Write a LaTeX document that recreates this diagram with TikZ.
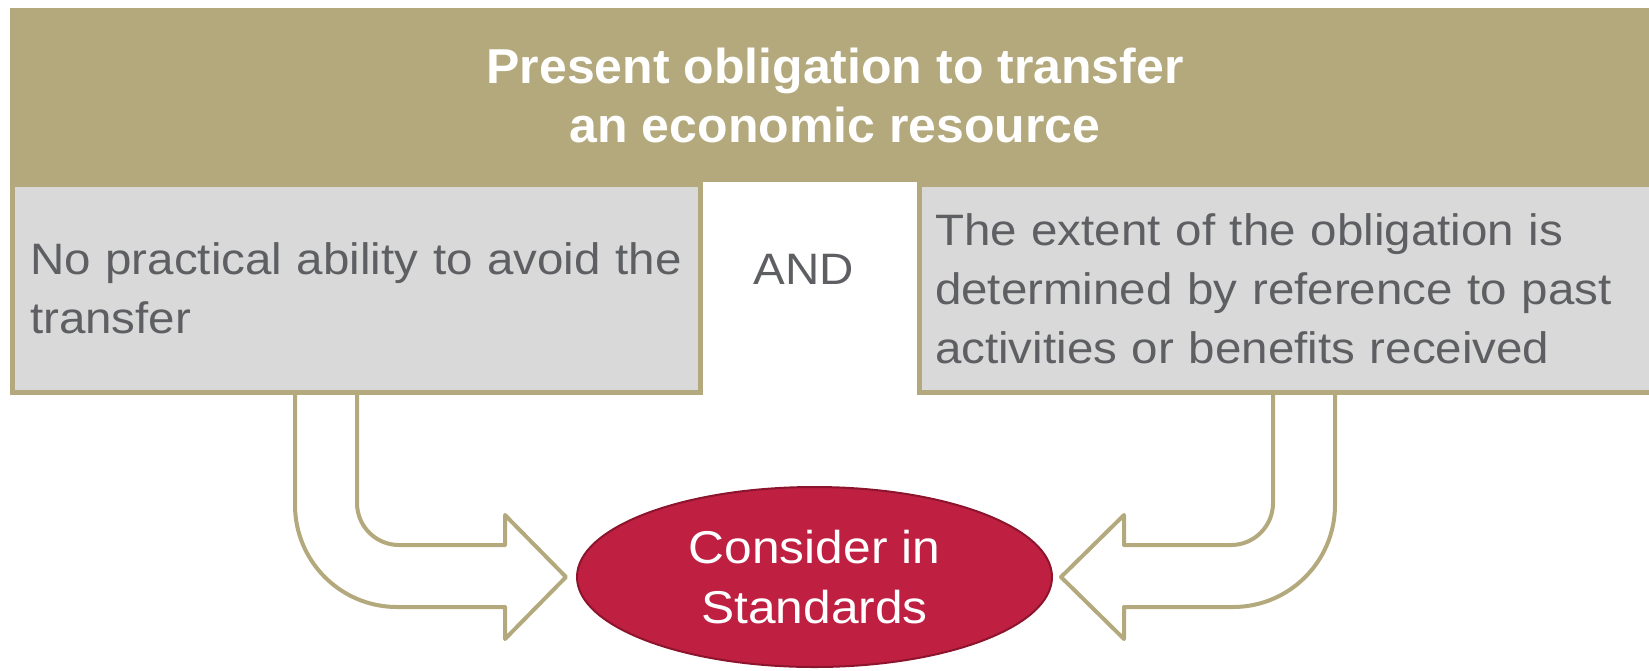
\documentclass[tikz,border=0pt]{standalone}
\usepackage{fontspec}
\setmainfont{Liberation Sans}[FakeStretch=1.08]
\newfontfamily\headfont{Liberation Sans}[FakeStretch=1.02]
\usepackage{tikz}
\usetikzlibrary{shapes.geometric}
\definecolor{khaki}{RGB}{179,169,124}
\definecolor{boxgray}{RGB}{217,217,217}
\definecolor{textgray}{RGB}{94,95,98}
\definecolor{crimson}{RGB}{191,32,65}
\definecolor{darkcrimson}{RGB}{140,20,45}

\begin{document}
\begin{tikzpicture}[x=1pt,y=-1pt]
	\useasboundingbox (0,0) rectangle (1649,670);
	\begin{scope}[every node/.style={rectangle, draw=khaki, line width=5pt, fill=boxgray,
			text=textgray, align=left, minimum height=208pt,
			font=\fontsize{44}{59}\selectfont}]
		\node[text width=653pt, inner xsep=17.5pt] (noavoid) at (356.5,288.5)
			{No practical ability to avoid the\\transfer};
		\node[text width=749.5pt, inner xsep=15.5pt, anchor=west] (extent) at (917,288.5)
			{The extent of the obligation is\\determined by reference to past\\activities or benefits received};
	\end{scope}
	\node[rectangle, fill=khaki, minimum width=1650pt, minimum height=174pt, inner sep=0pt,
		text=white, align=center, font=\headfont\bfseries\fontsize{49}{59}\selectfont]
		(obligation) at (835,95) {Present obligation to transfer\\an economic resource};
	\node[text=textgray, font=\fontsize{44}{59}\selectfont] (and) at (804,269) {AND};
	\node[ellipse, fill=crimson, draw=darkcrimson, line width=2pt, minimum width=475pt,
		minimum height=180pt, inner sep=0pt, text=white, align=center,
		font=\fontsize{46}{60}\selectfont] (consider) at (814.5,577) {Consider in\\Standards};
	\coordinate (ltip) at ([xshift=-10pt]consider.west);
	\coordinate (rtip) at ([xshift=8pt]consider.east);
	\begin{scope}[every path/.style={draw=khaki, line width=4pt, fill=white, line join=round}]
		\path (357,0 |- noavoid.south) -- (357,503)
			arc[start angle=180, end angle=270, radius=42pt] -- (505,545) -- (505,515)
			-- (ltip) -- (505,639) -- (505,607) -- (397,607)
			arc[start angle=270, end angle=180, radius=102pt] -- (295,0 |- noavoid.south);
		\path (1273,0 |- extent.south) -- (1273,503)
			arc[start angle=0, end angle=-90, radius=42pt] -- (1124,545) -- (1124,515)
			-- (rtip) -- (1124,639) -- (1124,607) -- (1233,607)
			arc[start angle=-90, end angle=0, radius=102pt] -- (1335,0 |- extent.south);
	\end{scope}
\end{tikzpicture}
\end{document}
